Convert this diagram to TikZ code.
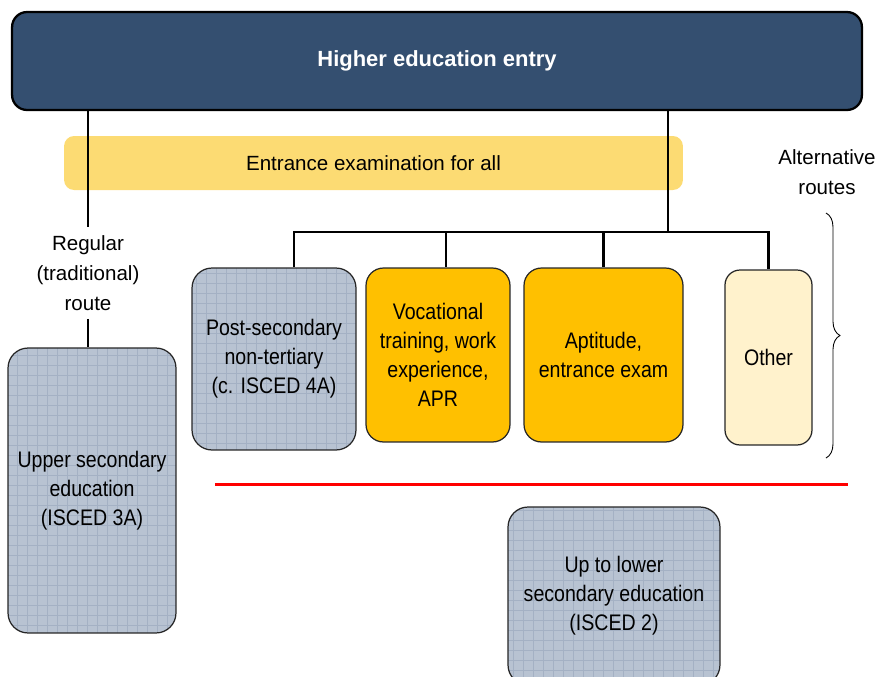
\documentclass[tikz,border=0pt]{standalone}
\usepackage{fontspec}
\setmainfont{Liberation Sans}
\newfontfamily\boxfont[FakeStretch=0.87]{Liberation Sans}
\usetikzlibrary{positioning,decorations.pathreplacing}

\definecolor{navy}{RGB}{52,79,112}
\definecolor{bandyellow}{RGB}{252,219,115}
\definecolor{gold}{RGB}{255,192,0}
\definecolor{paleyellow}{RGB}{255,242,204}
\definecolor{slategray}{RGB}{184,195,210}
\definecolor{slategrid}{RGB}{164,177,196}

\begin{document}
\begin{tikzpicture}[
		x=0.02cm, y=-0.02cm,
		font=\fontsize{11.7}{17}\selectfont,
		entrybox/.style={
			rectangle,
			rounded corners=0.3cm,
			draw=black,
			line width=1.3pt,
			fill=navy,
			text=white,
			font=\fontsize{12.5}{17}\selectfont\bfseries,
			minimum width=17cm,
			minimum height=1.96cm
		},
		band/.style={
			rectangle,
			rounded corners=0.2cm,
			fill=bandyellow,
			minimum width=12.38cm,
			minimum height=1.08cm
		},
		boxtext/.style={
			align=center,
			font=\boxfont\fontsize{12.8}{16.5}\selectfont
		},
		graybox/.style={
			boxtext,
			rectangle,
			rounded corners=0.4cm,
			draw=black!85,
			line width=0.7pt,
			fill=slategray,
			path picture={
				\draw[slategrid, line width=0.5pt, step=0.2cm]
					(path picture bounding box.south west) grid (path picture bounding box.north east);
			}
		},
		goldbox/.style={
			boxtext,
			rectangle,
			rounded corners=0.35cm,
			draw=black!85,
			line width=0.7pt,
			fill=gold
		},
		otherbox/.style={
			boxtext,
			rectangle,
			rounded corners=0.3cm,
			draw=black!85,
			line width=0.7pt,
			fill=paleyellow
		},
		link/.style={draw=black, line width=1.4pt}
		]
		\useasboundingbox (0,0) rectangle (877,677);

		\node[entrybox] (entry) at (437,61) {Higher education entry};
		\node[band] (exam) at (373.5,163) {Entrance examination for all};

		\node[align=center, inner ysep=0.16cm] (regular) at (88,273) {Regular\\(traditional)\\route};
		\node[graybox, minimum width=3.36cm, minimum height=5.7cm] (upper) at (92,490.5)
			{Upper secondary\\education\\(ISCED 3A)};

		\node[graybox, minimum width=3.28cm, minimum height=3.64cm] (postsec) at (274,359)
			{Post-secondary\\non-tertiary\\(c. ISCED 4A)};
		\node[goldbox, minimum width=2.88cm, minimum height=3.48cm] (vocational) at (438,355)
			{Vocational\\training, work\\experience,\\APR};
		\node[goldbox, minimum width=3.18cm, minimum height=3.48cm] (aptitude) at (603.5,355)
			{Aptitude,\\entrance exam};
		\node[otherbox, minimum width=1.74cm, minimum height=3.5cm] (other) at (768.5,357.5) {Other};

		\node[graybox, minimum width=4.24cm, minimum height=3.56cm] (lower) at (614,596)
			{Up to lower\\secondary education\\(ISCED 2)};

		\node[align=center] (altroutes) at (827,172) {Alternative\\routes};

		\coordinate (hub) at (668,232);
		\coordinate (bracetop) at (826,213);
		\coordinate (bracebot) at (826,458);

		% regular route
		\draw[link] (entry.south -| regular) -- (regular.north);
		\draw[link] (regular.south) -- (regular.south |- upper.north);

		% alternative routes
		\draw[link] (entry.south -| hub) -- (hub);
		\draw[link] ([xshift=0.4cm]postsec.north) -- ([xshift=0.4cm]postsec.north |- hub)
			-- (other.north |- hub) -- (other.north);
		\draw[link] ([xshift=0.16cm]vocational.north |- hub) -- ([xshift=0.16cm]vocational.north);
		\draw[link] (aptitude.north |- hub) -- (aptitude.north);

		\draw[line width=0.5pt, decorate, decoration={brace, amplitude=0.28cm}] (bracetop) -- (bracebot);

		\draw[red, line width=1.7pt] (215,484) -- (848,484);
\end{tikzpicture}
\end{document}
